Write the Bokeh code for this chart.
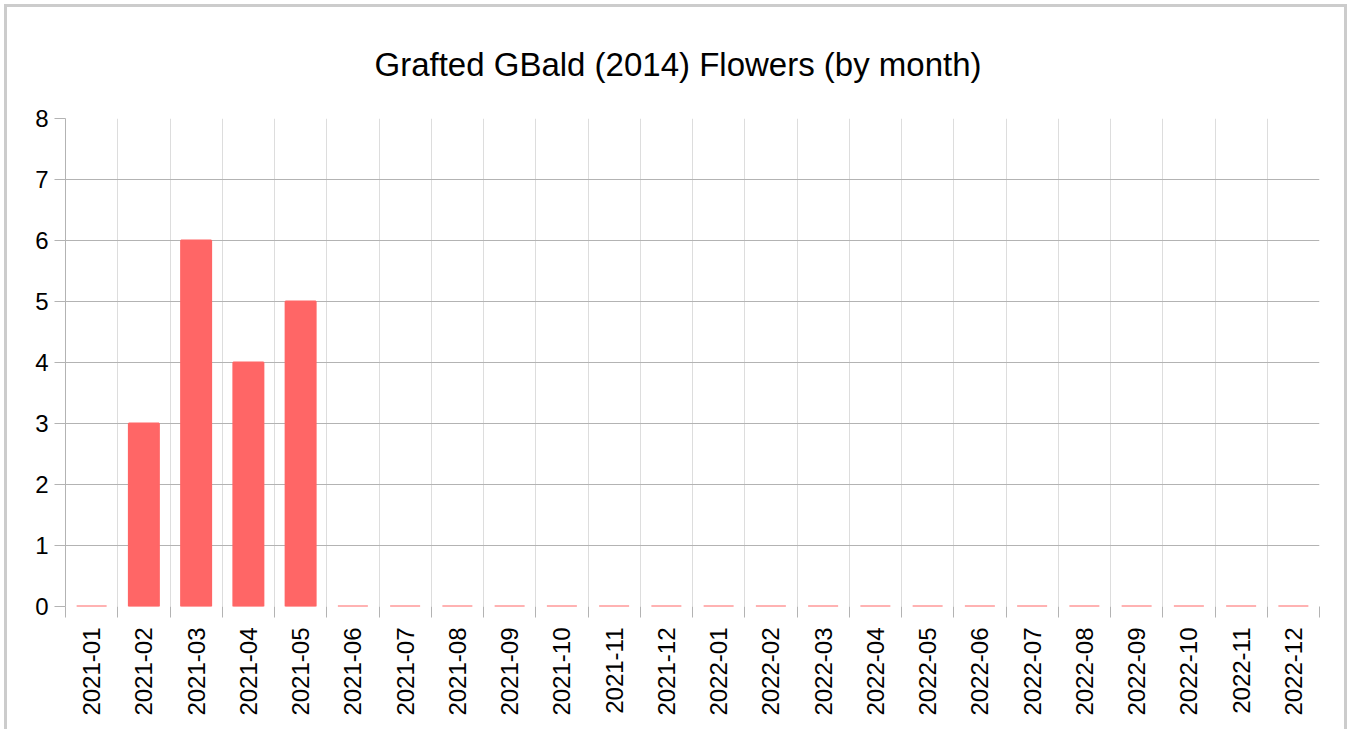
import math
from bokeh.plotting import figure
from bokeh.models import FixedTicker, ColumnDataSource, Range1d
from bokeh.embed import file_html
from bokeh.resources import INLINE

months = ["2021-01", "2021-02", "2021-03", "2021-04", "2021-05", "2021-06",
          "2021-07", "2021-08", "2021-09", "2021-10", "2021-11", "2021-12",
          "2022-01", "2022-02", "2022-03", "2022-04", "2022-05", "2022-06",
          "2022-07", "2022-08", "2022-09", "2022-10", "2022-11", "2022-12"]
flowers = [0, 3, 6, 4, 5, 0, 0, 0, 0, 0, 0, 0,
           0, 0, 0, 0, 0, 0, 0, 0, 0, 0, 0, 0]
y_ticks = [0, 1, 2, 3, 4, 5, 6, 7, 8]
title_text = "Grafted GBald (2014) Flowers (by month)"

n = len(months)
centers = [i + 0.5 for i in range(n)]
bounds = [float(i) for i in range(n + 1)]

src = ColumnDataSource(dict(x=centers, top=flowers, month=months))

p = figure(width=1343, height=725, output_backend="svg", toolbar_location=None,
           x_range=Range1d(0, n), y_range=Range1d(0, max(y_ticks)),
           min_border_left=58, min_border_right=31, min_border_top=111, min_border_bottom=126,
           title=title_text)
p.styles = {"border": "3px solid #cccccc", "border-bottom": "none",
            "margin-left": "4px", "margin-top": "4px"}
p.outline_line_color = None
p.background_fill_color = "white"
p.border_fill_color = "white"

p.title.text_font = "Liberation Sans"
p.title.text_font_size = "33px"
p.title.text_font_style = "normal"
p.title.text_color = "black"
p.title.align = "left"
p.title.standoff = 71
p.title.offset = 309

RED = "#ff6666"
p.vbar(x="x", top="top", bottom=0, width=0.574, source=src,
       fill_color=RED, line_color=RED, line_width=2)

# x axis
xa = p.xaxis[0]
xa.ticker = FixedTicker(ticks=centers, minor_ticks=bounds)
xa.major_label_overrides = {c: m for c, m in zip(centers, months)}
xa.major_label_orientation = math.pi / 2
xa.major_tick_line_color = None
xa.major_tick_out = 0
xa.major_tick_in = 0
xa.minor_tick_line_color = "#b3b3b3"
xa.minor_tick_out = 11
xa.minor_tick_in = 0
xa.axis_line_color = None
xa.major_label_standoff = 10
xa.major_label_text_font = "Liberation Sans"
xa.major_label_text_font_size = "24px"
xa.major_label_text_color = "black"

# y axis
ya = p.yaxis[0]
ya.ticker = FixedTicker(ticks=y_ticks, minor_ticks=[])
ya.axis_line_color = "#b3b3b3"
ya.major_tick_line_color = "#b3b3b3"
ya.major_tick_out = 11
ya.major_tick_in = 0
ya.minor_tick_line_color = None
ya.major_label_standoff = 6
ya.major_label_text_font = "Liberation Sans"
ya.major_label_text_font_size = "24px"
ya.major_label_text_color = "black"

p.xgrid.ticker = FixedTicker(ticks=bounds)
p.xgrid.grid_line_color = "#dddddd"
p.ygrid.ticker = FixedTicker(ticks=y_ticks)
p.ygrid.grid_line_color = "#b3b3b3"

open("out.html", "w").write(file_html(p, INLINE))
